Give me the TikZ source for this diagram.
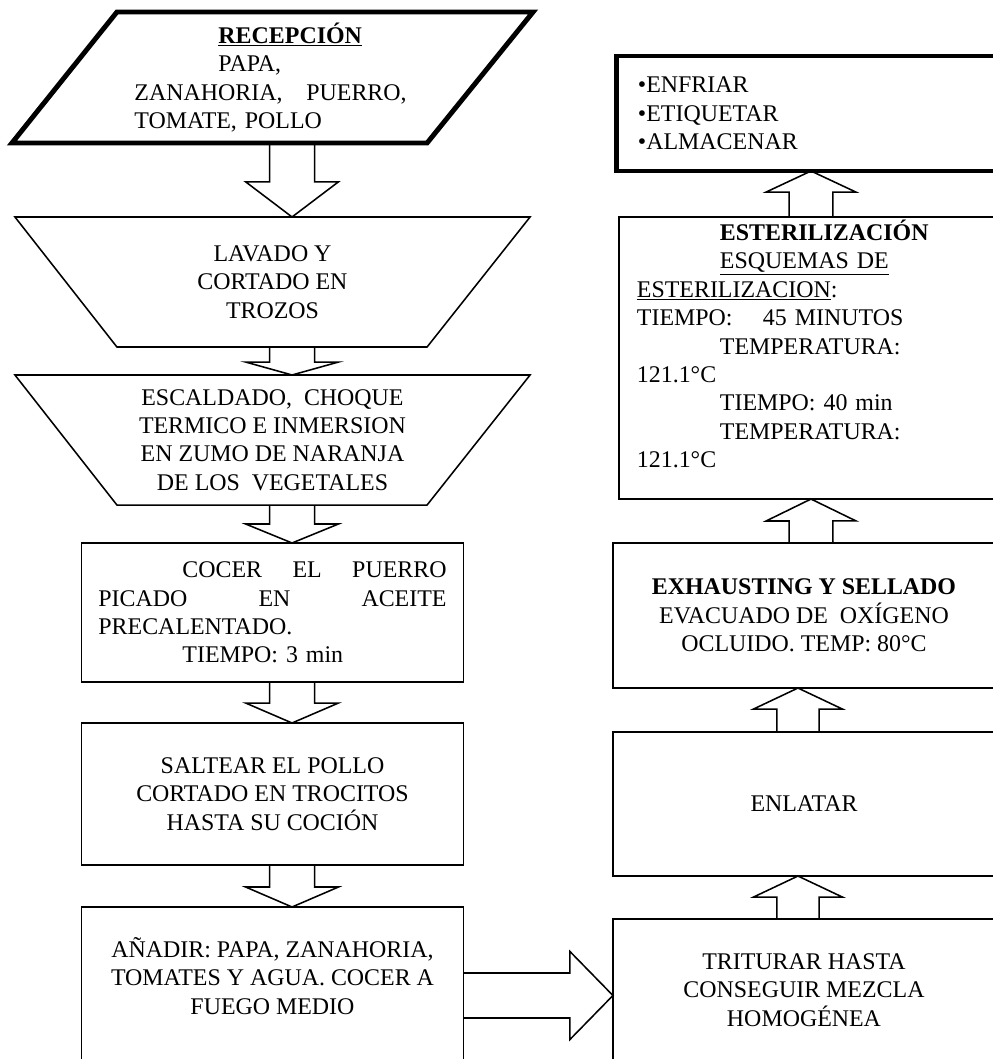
\documentclass[tikz,border=0pt]{standalone}
\usepackage{fontspec}
\setmainfont{Liberation Serif}
\usetikzlibrary{calc}

\newcommand{\texto}{\fontsize{17}{20.2}\selectfont}
% flecha de bloque: #1 largo cabeza, #2 medio cuerpo, #3 media cabeza, #4 desde, #5 hasta
\newcommand{\flecha}[5]{%
  \draw[bloque] let \p1=(#4), \p2=(#5), \n1={veclen(\x2-\x1,\y2-\y1)},
      \n2={(\x2-\x1)/\n1}, \n3={(\y2-\y1)/\n1} in
    ({\x1-(\n3)*(#2)},{\y1+(\n2)*(#2)})
    -- ({\x2-(\n2)*(#1)-(\n3)*(#2)},{\y2-(\n3)*(#1)+(\n2)*(#2)})
    -- ({\x2-(\n2)*(#1)-(\n3)*(#3)},{\y2-(\n3)*(#1)+(\n2)*(#3)})
    -- (\p2)
    -- ({\x2-(\n2)*(#1)+(\n3)*(#3)},{\y2-(\n3)*(#1)-(\n2)*(#3)})
    -- ({\x2-(\n2)*(#1)+(\n3)*(#2)},{\y2-(\n3)*(#1)-(\n2)*(#2)})
    -- ({\x1+(\n3)*(#2)},{\y1-(\n2)*(#2)});
}

\tikzset{
  forma/.style={rectangle, inner sep=0pt, outer sep=0pt, align=center, font=\texto},
  caja/.style={forma, draw, line width=1.1pt},
  borde/.style={line width=1.1pt, line join=miter},
  gruesa/.style={line width=3.5pt, line join=miter},
  bloque/.style={line width=1.1pt, line join=miter},
}

\begin{document}
\begin{tikzpicture}[x=0.025cm, y=-0.025cm]
    \useasboundingbox (0,0) rectangle (993,1059);
    \clip (0,0) rectangle (993,1059);

    % columna izquierda
    \node [forma, minimum width=13.025cm, minimum height=3.275cm, text width=6.9cm, align=left] (recep) at (272.5,77.5)
      {\hspace*{2.1cm}\underline{\textbf{RECEPCIÓN}}\\
       \hspace*{2.1cm}PAPA,\\
       ZANAHORIA,\ \ \ PUERRO,\\
       TOMATE, POLLO};
    \draw [gruesa] (recep.south west) -- ($(recep.south east)+(-106,0)$) -- (recep.north east) -- ($(recep.north west)+(105,0)$) -- cycle;

    \node [forma, minimum width=12.875cm, minimum height=3.25cm] (lavado) at (272.5,282)
      {LAVADO Y\\CORTADO EN\\TROZOS};
    \draw [borde] (lavado.north west) -- (lavado.north east) -- ($(lavado.south east)+(-103,0)$) -- ($(lavado.south west)+(102,0)$) -- cycle;

    \node [forma, minimum width=12.875cm, minimum height=3.25cm] (escal) at (272.5,440)
      {ESCALDADO,\ \ CHOQUE\\TERMICO E INMERSION\\EN ZUMO DE NARANJA\\DE LOS\ \ VEGETALES};
    \draw [borde] (escal.north west) -- (escal.north east) -- ($(escal.south east)+(-103,0)$) -- ($(escal.south west)+(102,0)$) -- cycle;

    \node [caja, minimum width=9.55cm, minimum height=3.475cm, text width=8.7cm, align=left] (cocer) at (272.5,612.5)
      {\hspace*{2.1cm}COCER\hfill EL\hfill PUERRO\\
       PICADO\hfill EN\hfill ACEITE\\
       PRECALENTADO.\\
       \hspace*{2.1cm}TIEMPO: 3 min};
    \node [caja, minimum width=9.55cm, minimum height=3.55cm] (saltear) at (272.5,794)
      {SALTEAR EL POLLO\\CORTADO EN TROCITOS\\HASTA SU COCIÓN};
    \node [caja, minimum width=9.55cm, minimum height=4.15cm] (anadir) at (272.5,990)
      {AÑADIR: PAPA, ZANAHORIA,\\TOMATES Y AGUA. COCER A\\FUEGO MEDIO\\ \mbox{}};

    % columna derecha
    \node [caja, line width=3.5pt, minimum width=9.7cm, minimum height=2.875cm, text width=8.65cm, align=left] (final) at (811,113.5)
      {\textbullet ENFRIAR\\ \textbullet ETIQUETAR\\ \textbullet ALMACENAR};
    \node [caja, minimum width=9.6cm, minimum height=7.05cm, text width=8.7cm, align=left] (steril) at (811,358)
      {\hspace*{2.075cm}\textbf{ESTERILIZACIÓN}\\
       \hspace*{2.075cm}\underline{ESQUEMAS DE}\\
       \underline{ESTERILIZACION}:\\
       \makebox[3.15cm][l]{TIEMPO:}45 MINUTOS\\
       \hspace*{2.075cm}TEMPERATURA:\\
       121.1°C\\
       \hspace*{2.075cm}TIEMPO: 40 min\\
       \hspace*{2.075cm}TEMPERATURA:\\
       121.1°C\\ \mbox{}};
    \node [caja, minimum width=9.55cm, minimum height=3.625cm] (exhaus) at (804,615.5)
      {\textbf{EXHAUSTING Y SELLADO}\\EVACUADO DE\ \ OXÍGENO\\OCLUIDO. TEMP: 80°C};
    \node [caja, minimum width=9.55cm, minimum height=3.6cm] (enlatar) at (804,804) {ENLATAR};
    \node [caja, minimum width=9.55cm, minimum height=3.55cm] (tritur) at (804,990)
      {TRITURAR HASTA\\CONSEGUIR MEZCLA\\HOMOGÉNEA};

    % flechas
    \flecha{25pt}{16pt}{33pt}{[xshift=13.9pt]recep.south}{[xshift=13.9pt]lavado.north}
    \flecha{9.2pt}{16pt}{33pt}{[xshift=13.9pt]lavado.south}{[xshift=13.9pt]escal.north}
    \flecha{13.5pt}{16pt}{33pt}{[xshift=13.9pt]escal.south}{[xshift=13.9pt]cocer.north}
    \flecha{14.2pt}{16pt}{33pt}{[xshift=13.9pt]cocer.south}{[xshift=13.9pt]saltear.north}
    \flecha{14.2pt}{16pt}{33pt}{[xshift=13.9pt]saltear.south}{[xshift=13.9pt]anadir.north}
    \flecha{30.6pt}{16pt}{31.3pt}{[yshift=-3.9pt]anadir.east}{[yshift=-3.9pt]tritur.west}
    \flecha{15pt}{15pt}{31.7pt}{[xshift=-4.3pt]tritur.north}{[xshift=-4.3pt]enlatar.south}
    \flecha{15pt}{15pt}{31.7pt}{[xshift=-4.3pt]enlatar.north}{[xshift=-4.3pt]exhaus.south}
    \flecha{15.6pt}{15.6pt}{32pt}{[xshift=5pt]exhaus.north}{steril.south}
    \flecha{15pt}{15.6pt}{32pt}{steril.north}{final.south}

\end{tikzpicture}
\end{document}
